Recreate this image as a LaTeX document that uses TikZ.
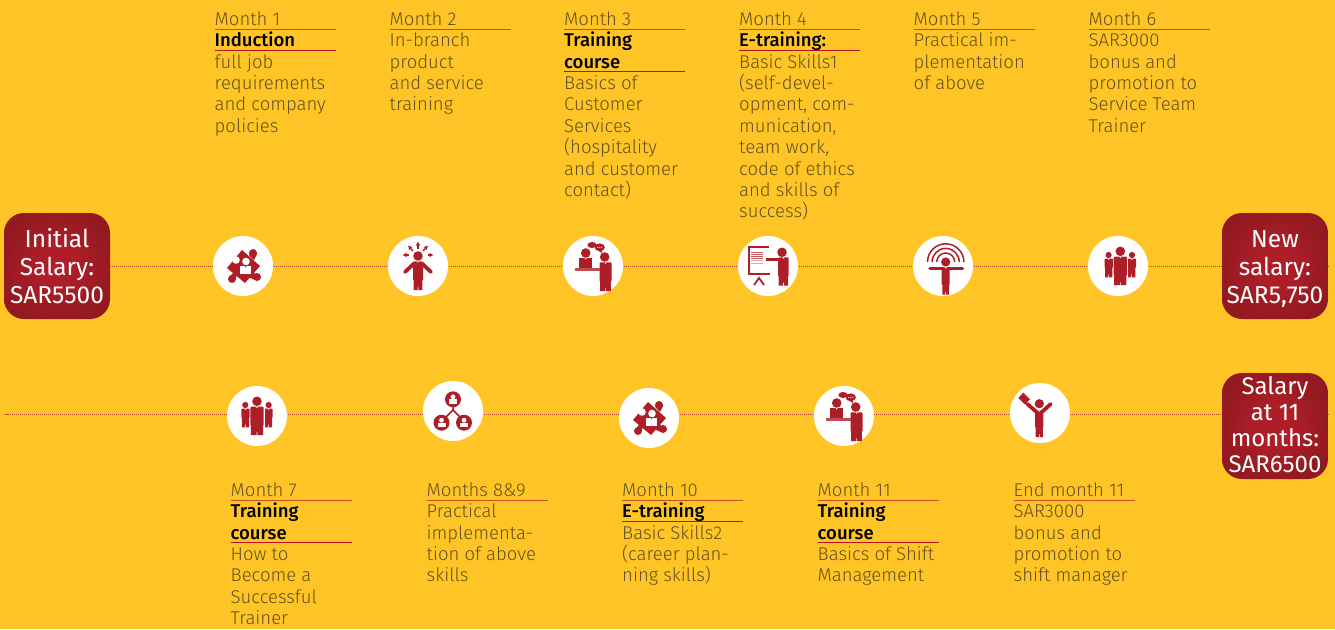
\documentclass[tikz,border=0pt]{standalone}
\usepackage{fontspec}
\setmainfont{Fira Sans}[UprightFont=* Light,BoldFont=* Medium]
\newfontfamily\regf{Fira Sans}
\usetikzlibrary{calc,arrows.meta}
\definecolor{bgy}{HTML}{FFC425}
\definecolor{rd}{HTML}{AE1E27}
\definecolor{txtc}{HTML}{64521A}
\definecolor{rulemc}{HTML}{C8501E}
\definecolor{ruleac}{HTML}{C0121E}
\definecolor{dotc}{HTML}{B8402A}
\pgfdeclareradialshading{salshade}{\pgfpoint{0bp}{0bp}}{rgb(0bp)=(.69,.118,.157);rgb(9bp)=(.68,.118,.155);rgb(26bp)=(.58,.10,.125);rgb(50bp)=(.56,.095,.12)}
\newcommand{\mhead}[1]{\textbf{\color{black}#1}}
\newcommand{\fst}{\rule{0pt}{16pt}}
\newcommand{\lst}{\rule[-6pt]{0pt}{6pt}}
% a standing man: x left, x right, y top, y bottom
\newcommand{\mantorso}[4]{%
  \fill[rd] (#1,#3+1) -- (#1+1,#3) -- (#2-1,#3) -- (#2,#3+1) -- (#2,#4-10) -- (#2-.6,#4-10) -- (#2-.6,#4) -- (#1/2+#2/2+.4,#4) -- (#1/2+#2/2+.4,#4-3) -- (#1/2+#2/2-.4,#4-3) -- (#1/2+#2/2-.4,#4) -- (#1+.6,#4) -- (#1+.6,#4-10) -- (#1,#4-10) -- cycle;
  \fill[white] (#1/2+#2/2-1,#3) -- (#1/2+#2/2+1,#3) -- (#1/2+#2/2,#3+1.5) -- cycle;}
\tikzset{
  x=1pt,y=-1pt,
  salary/.style={rounded corners=20pt,minimum width=106pt,minimum height=106pt,inner sep=0pt,
    shading=salshade,draw=none,text=white,align=center,
    font=\regf\fontsize{24.5}{28}\selectfont},
  salaryb/.style={salary,font=\regf\fontsize{24}{26}\selectfont},
  disc/.style={circle,fill=white,minimum size=60pt,inner sep=0pt},
  coltxt/.style={anchor=north west,inner sep=0pt,align=left,text=txtc,
    font=\fontsize{18.5}{21.4}\selectfont},
  dots/.style={dotc,line width=.8pt,dash pattern=on 1pt off 1pt,yshift=-.5pt},
  oddstart/.style={dash phase=1pt},
  mrule/.style={rulemc,line width=1.3pt},
  arule/.style={ruleac,line width=1.3pt},
  arm/.style={rd,line width=3.8pt,line cap=round},
  pics/puzzle/.style={code={
    \fill[rd] (-1,-16) -- (17,0) -- (2,17) -- (-16,2) -- cycle;
    \fill[rd] (10,-13) circle (4) (14,11) circle (4) (-11,13) circle (4);
    \fill[rd] (6,-11) -- (11,-6) -- (14,-12) -- (11,-15) -- cycle;
    \fill[rd] (10,6) -- (14,9) -- (12,14) -- (5,11) -- cycle;
    \fill[rd] (-6,9) -- (-9,16) -- (-14,11) -- (-9,6) -- cycle;
    \fill[white] (-7,-6) circle (3.8);
    \fill[white] (3,-4.5) circle (3.8);
    \fill[white] (-3,-.5) rectangle (8,8);
    \fill[rd] (1.5,-.5) -- (3.5,-.5) -- (2.5,1.5) -- cycle;
  }},
  pics/burst/.style={code={
    \fill[rd] (0,-10) circle (4.8);
    \draw[arm] (-4,-2.5) -- (-13,6);
    \draw[arm] (4,-2.5) -- (13,6);
    \mantorso{-5}{5}{-4.7}{24}
    \draw[rd,line width=1.4pt,-{Latex[length=4pt,width=4.8pt]}] (-9.5,-11) -- (-15.5,-11);
    \draw[rd,line width=1.4pt,-{Latex[length=4pt,width=4.8pt]}] (-5,-15) -- (-10,-20.5);
    \draw[rd,line width=1.4pt,-{Latex[length=4pt,width=4.8pt]}] (0,-17) -- (0,-24.5);
    \draw[rd,line width=1.4pt,-{Latex[length=4pt,width=4.8pt]}] (5,-15) -- (10,-20.5);
    \draw[rd,line width=1.4pt,-{Latex[length=4pt,width=4.8pt]}] (9.5,-11) -- (15.5,-11);
  }},
  pics/course/.style={code={
    \fill[rd] (11.7,-9) circle (4.8);
    \mantorso{6.5}{18.5}{-3.7}{25}
    \fill[rd] (-7.3,-13) circle (4.8);
    \fill[rd] (-14,-8) rectangle (-.7,2);
    \fill[white] (-8.3,-8) -- (-6.3,-8) -- (-7.3,-6.5) -- cycle;
    \fill[rd!80!white] (-17.7,2.4) rectangle (6.5,4.6);
    \fill[rd] (-1,-21) ellipse (4.6 and 3);
    \fill[white] (5,-23.5) -- (11.5,-23) -- (12,-16) -- (6,-14) -- (1,-17) -- cycle;
    \fill[rd] (6.7,-18.7) ellipse (5.2 and 3.9);
    \fill[rd] (5,-15.5) -- (9,-15.5) -- (9,-13) -- cycle;
    \fill[white] (4.7,-18.7) circle (.55) (6.7,-18.7) circle (.55) (8.7,-18.7) circle (.55);
  }},
  pics/board/.style={code={
    \fill[rd] (-20,-19.7) rectangle (1,-18);
    \fill[rd] (-20,-19.7) rectangle (-18,8.7);
    \fill[rd] (-20,7) rectangle (1.7,8.7);
    \foreach \yy in {-14.5,-12.3,-10.1,-7.9}{\fill[rd!75!white] (-16.7,\yy) rectangle (-5,\yy+1);}
    \foreach \yy in {-5.7,-3.5}{\fill[rd!40!white] (-16.7,\yy) rectangle (-5,\yy+1);}
    \draw[rd,line width=1.8pt] (-14,19) -- (-9,12) -- (-4,19);
    \fill[rd] (14,-13.7) circle (4.8);
    \fill[rd] (-2.3,-8.4) rectangle (12,-5);
    \mantorso{10}{20.7}{-8.7}{19.7}
  }},
  pics/rainbow/.style={code={
    \fill[rd] (2.7,-4) circle (4.6);
    \draw[rd,line width=3.6pt,line cap=round] (-13,2.5) -- (19.5,2.5);
    \mantorso{-1.3}{6.7}{1.2}{28.7}
    \foreach \r in {9,13.6,18.2}{
      \draw[rd,line width=1.5pt] (2.7-\r,-4) arc[start angle=180,end angle=360,radius=\r];}
  }},
  pics/team/.style={code={
    \fill[rd] (0,-14.7) circle (4.8);
    \fill[rd] (-11.7,-11) circle (3.1) (11.7,-11) circle (3.1);
    \mantorso{-15.7}{-7.3}{-7.5}{11.3}
    \mantorso{7.3}{15.7}{-7.5}{11.3}
    \draw[white,line width=.7pt] (-6.9,-9) -- (-6.9,19) (6.9,-9) -- (6.9,19);
    \mantorso{-6.7}{6.7}{-9.3}{19}
  }},
  pics/network/.style={code={
    \draw[rd,line width=1.5pt] (0,-5) -- (0,-1) (-8,7) -- (0,-1) -- (8,7);
    \foreach \cx/\cy in {0/-11.7,-11.5/11.7,11/11.7}{
      \fill[rd] (\cx,\cy) circle (8);
      \fill[white] (\cx,\cy-2.5) circle (2.4);
      \fill[white] (\cx-4,\cy) rectangle (\cx+4,\cy+4.5);
    }
  }},
  pics/cheer/.style={code={
    \fill[rd] (-.7,-9.3) circle (4.6);
    \draw[arm] (-4,-1.5) -- (-12.7,-9);
    \draw[arm] (2.5,-1.5) -- (10.7,-9);
    \mantorso{-5}{3.4}{-2.7}{24}
    \fill[rd] (-21.7,-15) -- (-16.7,-20.3) -- (-10,-13.7) -- (-15,-8.3) -- cycle;
  }},
}
\begin{document}
\begin{tikzpicture}
\useasboundingbox (0,0) rectangle (1335,629);
\fill[bgy] (0,0) rectangle (1335,629);
% salary boxes
\node[salary] (init) at (57,266) {\rule{0pt}{23pt}Initial\\Salary:\\SAR5500\rule[-5pt]{0pt}{5pt}};
\node[salary] (new) at (1275,266) {\rule{0pt}{23pt}New\\salary:\\SAR5,750\rule[-5pt]{0pt}{5pt}};
\node[salaryb] (final) at (1275,426) {\rule{0pt}{20pt}Salary\\at 11\\months:\\SAR6500\lst};
% discs
\node[disc] (c1) at (243,266) {};
\node[disc] (c2) at (418,266) {};
\node[disc] (c3) at (593,266) {};
\node[disc] (c4) at (768,266) {};
\node[disc] (c5) at (943,266) {};
\node[disc] (c6) at (1118,266) {};
\node[disc] (d1) at (257,416) {};
\node[disc] (d2) at (453,411) {};
\node[disc] (d3) at (649,418) {};
\node[disc] (d4) at (844,416) {};
\node[disc] (d5) at (1040,413) {};
% timeline connectors
\draw[dots] (init.east) -- (c1.west);
\draw[dots,oddstart] (c1.east) -- (c2.west);
\draw[dots,oddstart] (c2.east) -- (c3.west);
\draw[dots,oddstart] (c3.east) -- (c4.west);
\draw[dots,oddstart] (c4.east) -- (c5.west);
\draw[dots,oddstart] (c5.east) -- (c6.west);
\draw[dots,oddstart] (c6.east) -- (new.west);
\coordinate (ls) at (5,414);
\coordinate (re) at (1330,414);
\coordinate (rt) at (1330,266);
\draw[dots] (new.east) -- (rt);
\draw[dots,oddstart] (ls) -- (ls -| d1.west);
\draw[dotc,line width=.8pt,yshift=-.5pt] (ls) -- ++(3,0);
\draw[dots,oddstart] (ls -| d1.east) -- (ls -| d2.west);
\draw[dots,oddstart] (ls -| d2.east) -- (ls -| d3.west);
\draw[dots,oddstart] (ls -| d3.east) -- (ls -| d4.west);
\draw[dots] (ls -| d4.east) -- (ls -| d5.west);
\draw[dots] (ls -| d5.east) -- (ls -| final.west);
\draw[dots] (ls -| final.east) -- (re);
% icons
\pic at (c1) {puzzle};
\pic at (c2) {burst};
\pic at (c3) {course};
\pic at (c4) {board};
\pic at (c5) {rainbow};
\pic at ($(c6)+(2.3,0)$) {team};
\pic at (d1) {team};
\pic at (d2) {network};
\pic at (d3) {puzzle};
\pic at (d4) {course};
\pic at (d5) {cheer};
% texts
\node[coltxt] (t1) at (214.5,9) {\fst Month 1\\\mhead{Induction}\\full job\\requirements\\and company\\policies};
\node[coltxt] (t2) at (389.5,9) {\fst Month 2\\In-branch\\product\\and service\\training};
\node[coltxt] (t3) at (564,9) {\fst Month 3\\\mhead{Training}\\\mhead{course}\\Basics of\\Customer\\Services\\(hospitality\\and customer\\contact)};
\node[coltxt] (t4) at (739,9) {\fst Month 4\\\mhead{E-training:}\\Basic Skills1\\(self-devel-\\opment, com-\\munication,\\team work,\\code of ethics\\and skills of\\success)};
\node[coltxt] (t5) at (913.5,9) {\fst Month 5\\Practical im-\\plementation\\of above};
\node[coltxt] (t6) at (1088.5,9) {\fst Month 6\\SAR3000\\bonus and\\promotion to\\Service Team\\Trainer};
\node[coltxt] (u1) at (230.5,480) {\fst Month 7\\\mhead{Training}\\\mhead{course}\\How to\\Become a\\Successful\\Trainer};
\node[coltxt] (u2) at (426.5,480) {\fst Months 8\&9\\Practical\\implementa-\\tion of above\\skills};
\node[coltxt] (u3) at (622,480) {\fst Month 10\\\mhead{E-training}\\Basic Skills2\\(career plan-\\ning skills)};
\node[coltxt] (u4) at (817.5,480) {\fst Month 11\\\mhead{Training}\\\mhead{course}\\Basics of Shift\\Management};
\node[coltxt] (u5) at (1013.5,480) {\fst End month 11\\SAR3000\\bonus and\\promotion to\\shift manager};
% rules under month labels
\foreach \n in {t1,t2,t3,t4,t5,t6,u1,u2,u3,u4,u5}{
  \draw[mrule] ($(\n.north west)+(0,20.5)$) -- ++(121,0);}
\foreach \n in {t1,t4,u3}{
  \draw[arule] ($(\n.north west)+(0,41.5)$) -- ++(121,0);}
\foreach \n in {t3,u1,u4}{
  \draw[arule] ($(\n.north west)+(0,62.5)$) -- ++(121,0);}
\end{tikzpicture}
\end{document}
